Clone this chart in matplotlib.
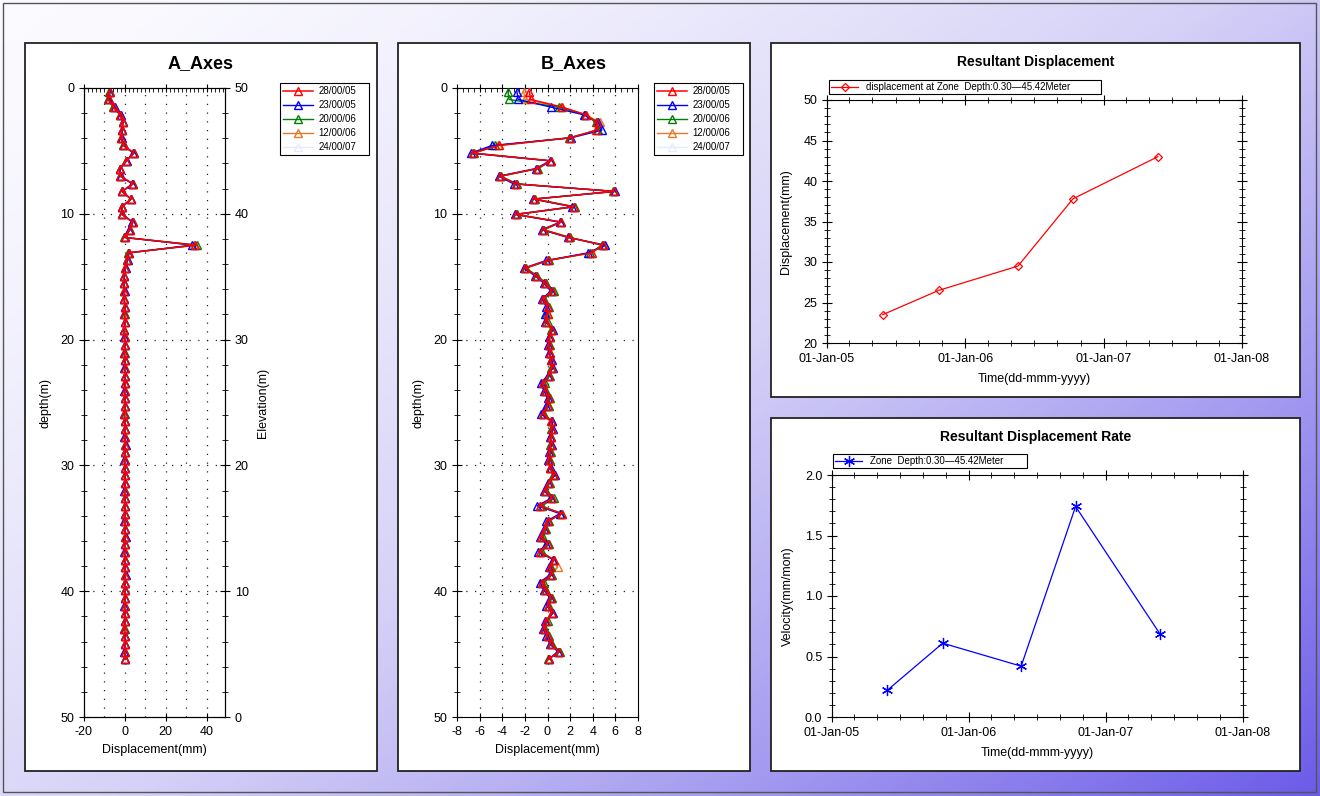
import numpy as np
import pandas as pd
import matplotlib
matplotlib.use("Agg")
import matplotlib.pyplot as plt
import matplotlib.dates as mdates
from matplotlib.patches import Rectangle
from matplotlib.colors import LinearSegmentedColormap
from matplotlib.ticker import MultipleLocator, FormatStrFormatter

W, H = 1320, 796

# probe depths (2 ft interval), shared by both axes
depth_m = [0.30, 0.91, 1.52, 2.13, 2.74, 3.35, 3.96, 4.57, 5.18, 5.79,
  6.40, 7.01, 7.62, 8.22, 8.83, 9.44, 10.05, 10.66, 11.27, 11.88,
  12.49, 13.10, 13.71, 14.32, 14.93, 15.54, 16.15, 16.76, 17.37, 17.98,
  18.59, 19.20, 19.81, 20.42, 21.03, 21.64, 22.25, 22.86, 23.46, 24.07,
  24.68, 25.29, 25.90, 26.51, 27.12, 27.73, 28.34, 28.95, 29.56, 30.17,
  30.78, 31.39, 32.00, 32.61, 33.22, 33.83, 34.44, 35.05, 35.66, 36.27,
  36.88, 37.49, 38.10, 38.70, 39.31, 39.92, 40.53, 41.14, 41.75, 42.36,
  42.97, 43.58, 44.19, 44.80, 45.42]

series_labels = ["28/00/05", "23/00/05", "20/00/06", "12/00/06", "24/00/07"]
series_colors = ["#ff0000", "#0000ff", "#008000", "#e8782a", "#e6ecff"]

# A axis displacement (mm)
a_28 = [-7.5, -8.0, -5.5, -2.2, -0.9, -1.4, -1.9, -0.6, 4.3, 0.7,
  -2.5, -2.2, 3.9, -1.4, 3.0, -1.4, -1.4, 3.9, 2.4, -0.1,
  34.5, 1.8, 1.0, 0.2, -0.5, -0.4, -0.2, -0.3, 0.0, -0.2,
  0.1, -0.3, -0.1, 0.0, -0.2, 0.1, -0.1, 0.0, 0.2, -0.1,
  0.0, 0.1, -0.2, 0.0, 0.1, -0.1, 0.2, 0.0, -0.1, 0.1,
  0.0, 0.2, -0.1, 0.0, 0.1, 0.0, -0.1, 0.1, 0.2, 0.0,
  -0.1, 0.1, 0.0, 0.2, 0.1, 0.0, 0.1, -0.1, 0.0, 0.1,
  -0.2, 0.0, 0.1, -0.1, 0.2]
a_23 = [-7.2, -7.6, -5.0, -1.8, -1.0, -1.2, -1.6, -0.4, 4.0, 0.9,
  -2.3, -2.0, 3.6, -1.2, 2.8, -1.6, -1.2, 3.6, 2.2, 0.1,
  33.0, 2.2, 1.3, 0.4, -0.3, -0.6, 0.0, -0.5, 0.1, -0.4,
  0.2, -0.5, -0.2, 0.1, -0.4, 0.0, -0.2, 0.1, 0.0, -0.3,
  0.1, 0.0, -0.4, 0.1, 0.0, -0.3, 0.4, -0.1, -0.3, 0.0,
  0.1, 0.1, -0.3, 0.1, 0.0, -0.1, -0.2, 0.0, 0.4, -0.1,
  -0.3, 0.0, 0.1, 0.4, 0.0, -0.1, 0.0, -0.3, 0.1, 0.0,
  -0.4, 0.1, 0.0, -0.3, 0.1]
a_20 = [-7.8, -8.2, -5.8, -2.5, -1.0, -1.6, -2.0, -0.8, 4.6, 0.5,
  -2.6, -2.4, 4.1, -1.5, 3.2, -1.3, -1.6, 4.0, 2.6, -0.2,
  35.5, 1.6, 0.8, 0.1, -0.6, -0.3, -0.3, -0.2, 0.1, -0.1,
  0.2, -0.2, 0.0, 0.1, -0.1, 0.2, 0.0, 0.1, 0.3, 0.0,
  0.1, 0.2, -0.1, 0.1, 0.2, 0.0, 0.3, 0.1, 0.0, 0.2,
  0.1, 0.3, 0.0, 0.1, 0.2, 0.1, 0.0, 0.2, 0.3, 0.1,
  0.0, 0.2, 0.1, 0.3, 0.2, 0.1, 0.2, 0.0, 0.1, 0.2,
  -0.1, 0.1, 0.2, 0.0, 0.3]
a_12 = [-7.6, -8.1, -5.6, -2.3, -0.9, -1.5, -1.8, -0.7, 4.4, 0.6,
  -2.4, -2.3, 4.0, -1.3, 3.1, -1.4, -1.5, 3.8, 2.5, -0.1,
  34.0, 1.7, 0.9, 0.2, -0.5, -0.4, -0.2, -0.3, 0.0, -0.2,
  0.1, -0.3, -0.1, 0.0, -0.2, 0.1, -0.1, 0.0, 0.2, -0.1,
  0.0, 0.1, -0.2, 0.0, 0.1, -0.1, 0.2, 0.0, -0.1, 0.1,
  0.0, 0.2, -0.1, 0.0, 0.1, 0.0, -0.1, 0.1, 0.2, 0.0,
  -0.1, 0.1, 0.0, 0.2, 0.1, 0.0, 0.1, -0.1, 0.0, 0.1,
  -0.2, 0.0, 0.1, -0.1, 0.2]
a_24 = [-7.5, -8.0, -5.5, -2.2, -0.9, -1.4, -1.9, -0.6, 4.3, 0.7,
  -2.5, -2.2, 3.9, -1.4, 3.0, -1.4, -1.4, 3.9, 2.4, -0.1,
  34.5, 1.8, 1.0, 0.2, -0.5, -0.4, -0.2, -0.3, 0.0, -0.2,
  0.1, -0.3, -0.1, 0.0, -0.2, 0.1, -0.1, 0.0, 0.2, -0.1,
  0.0, 0.1, -0.2, 0.0, 0.1, -0.1, 0.2, 0.0, -0.1, 0.1,
  0.0, 0.2, -0.1, 0.0, 0.1, 0.0, -0.1, 0.1, 0.2, 0.0,
  -0.1, 0.1, 0.0, 0.2, 0.1, 0.0, 0.1, -0.1, 0.0, 0.1,
  -0.2, 0.0, 0.1, -0.1, 0.2]

# B axis displacement (mm)
b_28 = [-1.6, -1.5, 1.3, 3.4, 4.4, 4.3, 2.0, -4.3, -6.6, 0.3,
  -0.9, -4.2, -2.8, 5.9, -1.2, 2.3, -2.8, 1.2, -0.4, 1.9,
  4.9, 3.9, 0.0, -2.0, -1.0, -0.2, 0.4, -0.4, 0.0, 0.0,
  -0.1, 0.4, 0.2, 0.1, 0.2, 0.3, 0.4, 0.1, -0.4, -0.2,
  0.1, 0.0, -0.4, 0.3, 0.4, 0.3, 0.3, 0.2, 0.1, 0.2,
  0.6, 0.1, -0.2, 0.4, -0.7, 1.3, 0.0, -0.2, -0.6, 0.0,
  -0.7, 0.6, 0.2, 0.3, -0.5, -0.2, 0.3, 0.0, 0.4, -0.1,
  -0.3, 0.0, 0.3, 1.0, 0.1]
b_23 = [-2.7, -2.6, 0.3, 3.2, 4.5, 4.8, 2.1, -4.9, -6.8, 0.2,
  -1.0, -4.3, -3.0, 6.0, -1.3, 2.2, -2.9, 1.1, -0.5, 1.8,
  5.1, 3.6, -0.1, -2.1, -1.1, -0.3, 0.3, -0.5, -0.1, -0.2,
  -0.2, 0.5, 0.1, 0.0, 0.1, 0.4, 0.5, 0.0, -0.6, -0.3,
  0.0, -0.1, -0.6, 0.4, 0.5, 0.2, 0.4, 0.1, 0.0, 0.3,
  0.7, 0.0, -0.3, 0.3, -0.9, 1.1, -0.1, -0.3, -0.7, -0.1,
  -0.8, 0.5, 0.1, 0.2, -0.7, -0.3, 0.2, -0.1, 0.5, -0.2,
  -0.4, -0.1, 0.2, 0.9, 0.1]
b_20 = [-3.5, -3.4, 1.0, 3.3, 4.3, 4.5, 1.9, -4.6, -6.5, 0.3,
  -0.8, -4.1, -2.7, 5.8, -1.1, 2.4, -2.7, 1.2, -0.3, 2.0,
  4.8, 3.8, 0.1, -1.9, -0.9, -0.1, 0.6, -0.3, 0.1, -0.1,
  0.0, 0.3, 0.2, 0.2, 0.2, 0.3, 0.3, 0.2, -0.2, -0.1,
  0.2, 0.1, -0.3, 0.4, 0.3, 0.3, 0.2, 0.3, 0.2, 0.2,
  0.5, 0.2, -0.1, 0.6, -0.5, 1.2, 0.1, -0.1, -0.4, 0.1,
  -0.5, 0.5, 0.3, 0.4, -0.3, -0.1, 0.4, 0.1, 0.4, 0.0,
  -0.2, 0.1, 0.4, 1.1, 0.0]
b_12 = [-2.1, -2.0, 1.2, 3.4, 4.6, 4.4, 2.0, -4.4, -6.6, 0.3,
  -0.9, -4.2, -2.8, 5.9, -1.2, 2.3, -2.8, 1.2, -0.4, 1.9,
  5.0, 3.8, 0.0, -2.0, -1.0, -0.2, 0.5, -0.4, 0.0, 0.0,
  -0.1, 0.4, 0.2, 0.1, 0.2, 0.3, 0.4, 0.1, -0.4, -0.2,
  0.1, 0.0, -0.4, 0.3, 0.4, 0.3, 0.3, 0.2, 0.1, 0.2,
  0.6, 0.1, -0.2, 0.4, -0.7, 1.3, 0.0, -0.2, -0.6, 0.0,
  -0.7, 0.6, 0.9, 0.3, -0.5, -0.2, 0.3, 0.0, 0.4, -0.1,
  -0.3, 0.0, 0.3, 1.0, 0.1]
b_24 = [-1.6, -1.5, 1.3, 3.4, 4.4, 4.3, 2.0, -4.3, -6.6, 0.3,
  -0.9, -4.2, -2.8, 5.9, -1.2, 2.3, -2.8, 1.2, -0.4, 1.9,
  4.9, 3.9, 0.0, -2.0, -1.0, -0.2, 0.4, -0.4, 0.0, 0.0,
  -0.1, 0.4, 0.2, 0.1, 0.2, 0.3, 0.4, 0.1, -0.4, -0.2,
  0.1, 0.0, -0.4, 0.3, 0.4, 0.3, 0.3, 0.2, 0.1, 0.2,
  0.6, 0.1, -0.2, 0.4, -0.7, 1.3, 0.0, -0.2, -0.6, 0.0,
  -0.7, 0.6, 0.2, 0.3, -0.5, -0.2, 0.3, 0.0, 0.4, -0.1,
  -0.3, 0.0, 0.3, 1.0, 0.1]

# survey dates and the resultant values at the zone
survey_dates = ["2005-05-28", "2005-10-23", "2006-05-20", "2006-10-12", "2007-05-24"]
resultant_disp = [23.5, 26.5, 29.5, 37.8, 43.0]
resultant_rate = [0.22, 0.61, 0.42, 1.74, 0.69]

zone_text = "Depth:0.30\u201445.42Meter"
legend_font = {'family': ['Liberation Sans Narrow', 'Liberation Sans'], 'size': 7}

# white panels, in pixels (left, top, right, bottom)
panel_boxes = [(25, 43, 377, 771), (398, 43, 750, 771), (771, 43, 1300, 397), (771, 418, 1300, 771)]


def px_axes(fig, box):
  left, top, right, bottom = box
  return fig.add_axes([left / W, 1 - bottom / H, (right - left) / W, (bottom - top) / H])


def draw_background(fig):
  bg = fig.add_axes([0, 0, 1, 1], zorder=-10)
  bg.set_xlim(0, W)
  bg.set_ylim(H, 0)
  bg.axis('off')
  #diagonal white -> purple wash
  gx, gy = np.meshgrid(np.linspace(0, 1, 330), np.linspace(0, 1, 200))
  shade = (0.55 * gx + 0.45 * gy) ** 1.5
  cmap = LinearSegmentedColormap.from_list('wash', [(0, '#fbfbff'), (0.35, '#d6d2f7'), (1, '#6c5be8')])
  bg.imshow(shade, cmap=cmap, extent=[0, W, H, 0], aspect='auto', vmin=0, vmax=1)
  bg.add_patch(Rectangle((3, 3), W - 7, H - 7, fill=False, ec='#555555', lw=1))
  for x0, y0, x1, y1 in panel_boxes:
    bg.add_patch(Rectangle((x0, y0), x1 - x0, y1 - y0, fc='white', ec='#222222', lw=1.3))


def draw_profile(fig, box, panel, title, series, xlim, xticks, xminor, xgrid, legend_box, elevation):
  ax = px_axes(fig, box)
  handles = []
  for i in range(len(series)):
    #first survey on top, the pale last one underneath
    line, = ax.plot(series[i], depth_m, color=series_colors[i], lw=1.1 if i == 0 else 1.0,
                    marker='^', ms=6, mfc='none', mec=series_colors[i], mew=1.0,
                    label=series_labels[i], zorder=10 - i)
    handles.append(line)

  for x in xgrid:
    ax.axvline(x, color='#222222', lw=0.9, ls=(0, (1, 6)), zorder=1)
  for d in [10, 20, 30, 40]:
    ax.axhline(d, color='#222222', lw=0.9, ls=(0, (1, 6)), zorder=1)

  ax.set_xlim(*xlim)
  ax.set_ylim(50, 0)
  ax.set_xticks(xticks)
  ax.xaxis.set_minor_locator(MultipleLocator(xminor))
  ax.yaxis.set_major_locator(MultipleLocator(10))
  ax.yaxis.set_minor_locator(MultipleLocator(2))
  ax.tick_params(axis='x', which='major', direction='inout', length=6, top=True, labelsize=9)
  ax.tick_params(axis='x', which='minor', direction='in', length=3, top=True, bottom=False)
  ax.tick_params(axis='y', which='major', direction='inout', length=7, right=elevation, labelsize=9)
  ax.tick_params(axis='y', which='minor', direction='inout', length=5, right=elevation)
  ax.set_xlabel('Displacement(mm)', fontsize=9, labelpad=4)
  ax.set_ylabel('depth(m)', fontsize=9, labelpad=6)

  if elevation:
    twin = ax.twinx()
    twin.set_ylim(0, 50)
    twin.yaxis.set_major_locator(MultipleLocator(10))
    twin.yaxis.set_minor_locator(MultipleLocator(2))
    twin.tick_params(axis='y', which='major', direction='inout', length=7, labelsize=9)
    twin.tick_params(axis='y', which='minor', direction='inout', length=5)
    twin.set_ylabel('Elevation(m)', fontsize=9, labelpad=6)

  fig.text((panel[0] + panel[2]) / 2 / W, 1 - 64 / H, title, ha='center', va='center',
           fontsize=13, fontweight='bold')

  x0, y0, x1, y1 = legend_box
  leg = ax.legend(handles=handles, loc='upper left', mode='expand',
                  bbox_to_anchor=(x0 / W, 1 - y1 / H, (x1 - x0) / W, (y1 - y0) / H),
                  bbox_transform=fig.transFigure, prop=legend_font, handlelength=3.0,
                  handletextpad=0.6, labelspacing=0.4, borderpad=0.35, borderaxespad=0,
                  fancybox=False, framealpha=1, edgecolor='black')
  leg.get_frame().set_linewidth(0.8)
  leg.set_zorder(20)


def draw_time(fig, box, panel, title, title_y, values, color, marker, ms, label, ylim, ymajor, yminor, fmt, ylabel, legend_box):
  ax = px_axes(fig, box)
  dates = pd.to_datetime(survey_dates)
  ax.plot(dates, values, color=color, lw=0.9, marker=marker, ms=ms, mfc='none', mec=color, mew=0.9, label=label)

  ax.set_xlim(pd.Timestamp('2005-01-01'), pd.Timestamp('2008-01-01'))
  ax.set_ylim(*ylim)
  ax.xaxis.set_major_locator(mdates.YearLocator())
  ax.xaxis.set_minor_locator(mdates.MonthLocator(bymonth=[3, 5, 7, 9, 11]))
  ax.xaxis.set_major_formatter(mdates.DateFormatter('%d-%b-%y'))
  ax.yaxis.set_major_locator(MultipleLocator(ymajor))
  ax.yaxis.set_minor_locator(MultipleLocator(yminor))
  ax.yaxis.set_major_formatter(FormatStrFormatter(fmt))
  ax.tick_params(which='major', direction='inout', length=7, top=True, right=True, labelsize=9)
  ax.tick_params(which='minor', direction='inout', length=4, top=True, right=True)
  ax.set_xlabel('Time(dd-mmm-yyyy)', fontsize=9, labelpad=6)
  ax.set_ylabel(ylabel, fontsize=9, labelpad=8)

  fig.text((panel[0] + panel[2]) / 2 / W, 1 - title_y / H, title, ha='center', va='center',
           fontsize=10, fontweight='bold')

  x0, y0, x1, y1 = legend_box
  leg = ax.legend(loc='upper left', mode='expand',
                  bbox_to_anchor=(x0 / W, 1 - y1 / H, (x1 - x0) / W, (y1 - y0) / H),
                  bbox_transform=fig.transFigure, prop=legend_font, handlelength=2.8,
                  handletextpad=0.8, borderpad=0.2, borderaxespad=0,
                  fancybox=False, framealpha=1, edgecolor='black')
  leg.get_frame().set_linewidth(0.8)


def main():
  plt.rcParams['font.family'] = ['Liberation Sans', 'DejaVu Sans']
  plt.rcParams['axes.unicode_minus'] = False
  fig = plt.figure(figsize=(W / 100, H / 100), dpi=100)
  draw_background(fig)

  draw_profile(fig, (84, 88, 225, 717), panel_boxes[0], 'A_Axes', [a_28, a_23, a_20, a_12, a_24],
               (-20, 49), [-20, 0, 20, 40], 2, [-10, 0, 10, 20, 30, 40], (280, 83, 369, 152), True)
  draw_profile(fig, (457, 88, 638, 717), panel_boxes[1], 'B_Axes', [b_28, b_23, b_20, b_12, b_24],
               (-8, 8), list(range(-8, 9, 2)), 0.5, [-6, -4, -2, 0, 2, 4, 6], (654, 83, 743, 152), False)

  draw_time(fig, (827, 100, 1242, 343), panel_boxes[2], 'Resultant Displacement', 62,
            resultant_disp, '#ff0000', 'D', 4, 'displacement at Zone  ' + zone_text,
            (20, 50), 5, 1, '%d', 'Displacement(mm)', (829, 80, 1101, 94))
  draw_time(fig, (832, 475, 1243, 717), panel_boxes[3], 'Resultant Displacement Rate', 437,
            resultant_rate, '#0000ff', (6, 2, 0), 8, 'Zone  ' + zone_text,
            (0, 2), 0.5, 0.1, '%.1f', 'Velocity(mm/mon)', (833, 454, 1027, 467))

  fig.savefig('out.png', dpi=100)


if __name__ == "__main__":
  main()
